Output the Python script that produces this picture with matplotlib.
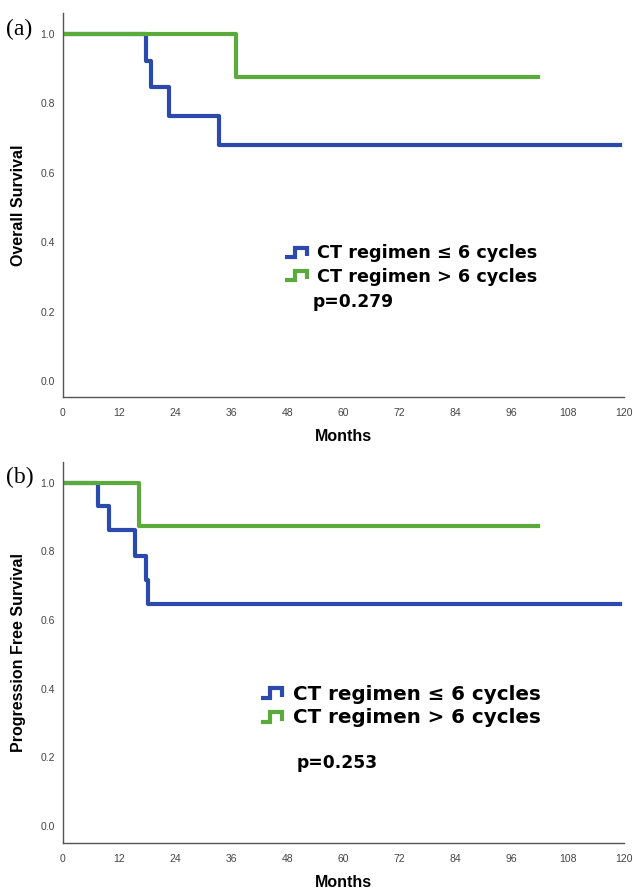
import numpy as np
import matplotlib
matplotlib.use('Agg')
import matplotlib.pyplot as plt
from matplotlib.legend_handler import HandlerBase
from matplotlib.lines import Line2D

plt.rcParams['font.family'] = ['Liberation Sans', 'DejaVu Sans']

# 資料 (a) Overall Survival
os_le6_t = [0, 17.8, 18.3, 18.9, 22.7, 33.3, 119.2]
os_le6_s = [1.0, 0.923, 0.923, 0.846, 0.764, 0.680, 0.680]
os_gt6_t = [0, 37.0, 101.7]
os_gt6_s = [1.0, 0.875, 0.875]
p_os = 'p=0.279'

# 資料 (b) Progression Free Survival
pfs_le6_t = [0, 7.4, 9.8, 15.3, 17.8, 18.2, 119.2]
pfs_le6_s = [1.0, 0.933, 0.863, 0.787, 0.717, 0.647, 0.647]
pfs_gt6_t = [0, 16.2, 101.7]
pfs_gt6_s = [1.0, 0.875, 0.875]
p_pfs = 'p=0.253'

labels = ['CT regimen \u2264 6 cycles', 'CT regimen > 6 cycles']
xticks = np.arange(0, 121, 12)
yticks = [0.0, 0.2, 0.4, 0.6, 0.8, 1.0]

blue = '#2c4aae'
green = '#5aab3c'


class StepHandler(HandlerBase):
    # 圖例的階梯小圖示
    def create_artists(self, legend, orig_handle, xdescent, ydescent,
                       width, height, fontsize, trans):
        x0 = -xdescent
        y0 = -ydescent
        xs = [x0, x0 + 0.4 * width, x0 + 0.4 * width, x0 + 0.88 * width, x0 + 0.88 * width]
        ys = [y0 + 0.12 * height, y0 + 0.12 * height, y0 + 0.85 * height, y0 + 0.85 * height, y0 + 0.2 * height]
        ln = Line2D(xs, ys, color=orig_handle.get_color(), lw=3, solid_joinstyle='miter',
                    solid_capstyle='butt', transform=trans)
        return [ln]


fig = plt.figure(figsize=(6.33, 8.93), dpi=100)
ax1 = fig.add_axes([63/633, 1-397/893, 561/633, 384/893])
ax2 = fig.add_axes([63/633, 1-843/893, 561/633, 381/893])


def setup(ax, ylabel, ymin):
    ax.set_xlim(0, 120)
    ax.set_ylim(ymin, 1.06)
    ax.set_xticks(xticks)
    ax.set_yticks(yticks)
    ax.set_yticklabels(['%.1f' % v for v in yticks])
    for s in ['top', 'right']:
        ax.spines[s].set_visible(False)
    for s in ['left', 'bottom']:
        ax.spines[s].set_color('#555555')
        ax.spines[s].set_linewidth(1.0)
    ax.tick_params(length=0, labelsize=7.5, labelcolor='#444444')
    ax.tick_params(axis='x', pad=8)
    ax.tick_params(axis='y', pad=6)
    ax.set_xlabel('Months', fontsize=11.5, fontweight='bold', labelpad=8)
    ax.set_ylabel(ylabel, fontsize=11.5, fontweight='bold')
    ax.yaxis.set_label_coords(-0.066, 0.5)


# (a)
h1, = ax1.step(os_le6_t, os_le6_s, where='post', color=blue, lw=3)
h2, = ax1.step(os_gt6_t, os_gt6_s, where='post', color=green, lw=3)
setup(ax1, 'Overall Survival', -0.046)
leg1 = ax1.legend([h1, h2], labels, handler_map={Line2D: StepHandler()},
                  loc='center left', bbox_to_anchor=(276/633, 1-265/893),
                  bbox_transform=fig.transFigure, frameon=False,
                  prop={'weight': 'bold', 'size': 12.7, 'family': 'DejaVu Sans'},
                  handlelength=1.4, handletextpad=0.4, labelspacing=0.32, borderpad=0)
fig.text(313/633, 1-302/893, p_os, fontsize=12.3, fontweight='bold',
         family='DejaVu Sans', va='center')
fig.text(6/633, 1-29/893, '(a)', fontsize=17, family='Liberation Serif', va='center')

# (b)
h3, = ax2.step(pfs_le6_t, pfs_le6_s, where='post', color=blue, lw=3)
h4, = ax2.step(pfs_gt6_t, pfs_gt6_s, where='post', color=green, lw=3)
setup(ax2, 'Progression Free Survival', -0.05)
leg2 = ax2.legend([h3, h4], labels, handler_map={Line2D: StepHandler()},
                  loc='center left', bbox_to_anchor=(251/633, 1-706/893),
                  bbox_transform=fig.transFigure, frameon=False,
                  prop={'weight': 'bold', 'size': 14.3, 'family': 'DejaVu Sans'},
                  handlelength=1.2, handletextpad=0.4, labelspacing=0.24, borderpad=0)
fig.text(297/633, 1-763/893, p_pfs, fontsize=12.3, fontweight='bold',
         family='DejaVu Sans', va='center')
fig.text(6/633, 1-477/893, '(b)', fontsize=17, family='Liberation Serif', va='center')

plt.savefig('out.png', dpi=100)
